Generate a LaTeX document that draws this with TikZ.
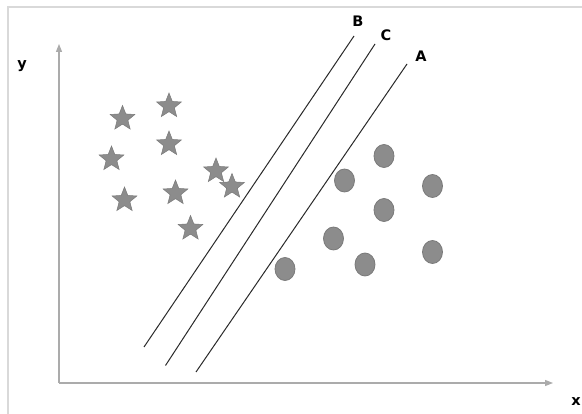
\documentclass[tikz,border=0pt]{standalone}
\usepackage{fontspec}
\setmainfont{DejaVu Sans}
\usetikzlibrary{shapes.geometric,arrows.meta}
\definecolor{ptfill}{HTML}{8C8C8C}
\definecolor{ptdraw}{HTML}{7A7A7A}
\definecolor{axisgray}{HTML}{ABABAB}
\definecolor{framegray}{HTML}{D9D9D9}
\definecolor{linegray}{HTML}{2A2A2A}
\tikzset{
  starpt/.style={star, star points=5, star point ratio=2.3, minimum size=26pt, inner sep=0pt, fill=ptfill, draw=ptdraw, line width=0.5pt},
  dotpt/.style={ellipse, minimum width=20pt, minimum height=23pt, inner sep=0pt, fill=ptfill, draw=ptdraw, line width=0.8pt},
  sepline/.style={draw=linegray, line width=1pt},
  axisline/.style={draw=axisgray, line width=1.2pt, -{Triangle[length=8pt,width=6pt]}},
  lbl/.style={font=\fontsize{14.5pt}{16pt}\selectfont\bfseries, text=black, inner sep=0pt},
}
\begin{document}
\begin{tikzpicture}[x=1pt,y=-1pt]
\useasboundingbox (0,0) rectangle (582,414);
\fill[white] (0,0) rectangle (582,414);
% frame (top and left edges visible)
\draw[framegray, line width=2pt] (8,414) -- (8,7.5) -- (582,7.5);
% axes
\coordinate (O) at (59,383);
\coordinate (ytop) at (59,44);
\coordinate (xend) at (553,383);
\draw[axisline] (O) -- (ytop);
\draw[axisline] (O) -- (xend);
\node[lbl] (ylab) at (22,66) {y};
\node[lbl] (xlab) at (576,402) {x};
% separating lines
\coordinate (b1) at (144,347);
\coordinate (b2) at (354,36);
\coordinate (c1) at (165.5,365.5);
\coordinate (c2) at (375,44);
\coordinate (a1) at (196,372);
\coordinate (a2) at (407,64);
\draw[sepline] (b1) -- (b2);
\draw[sepline] (c1) -- (c2);
\draw[sepline] (a1) -- (a2);
\node[lbl] (Blab) at (358,21) {B};
\node[lbl] (Clab) at (386,35) {C};
\node[lbl] (Alab) at (421,56) {A};
% stars
\node[starpt] (s1) at (122.5,118.5) {};
\node[starpt] (s2) at (169,106) {};
\node[starpt] (s3) at (169,144) {};
\node[starpt] (s4) at (111.5,159) {};
\node[starpt] (s5) at (124.5,200) {};
\node[starpt] (s6) at (175.5,193) {};
\node[starpt] (s7) at (216,171) {};
\node[starpt] (s8) at (232,186.5) {};
\node[starpt] (s9) at (190.5,228.5) {};
% circles
\node[dotpt] (d1) at (384,156) {};
\node[dotpt] (d2) at (344.5,180.5) {};
\node[dotpt] (d3) at (432.5,186) {};
\node[dotpt] (d4) at (384,210) {};
\node[dotpt] (d5) at (333.5,238.5) {};
\node[dotpt] (d6) at (365,264.5) {};
\node[dotpt] (d7) at (432.5,252) {};
\node[dotpt] (d8) at (285,269) {};
\end{tikzpicture}
\end{document}
